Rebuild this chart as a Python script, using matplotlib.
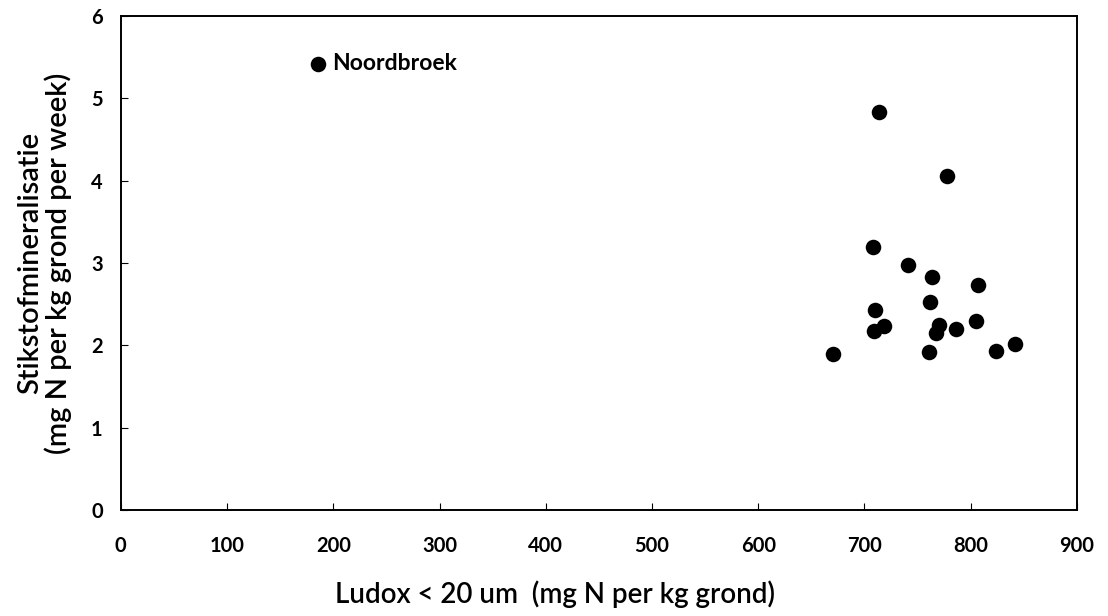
import matplotlib
matplotlib.use("Agg")
import matplotlib.pyplot as plt

# Meetpunten (Ludox < 20 um tegen stikstofmineralisatie)
ludox = [714, 778, 708, 741, 764, 807, 762, 710, 718, 709, 770, 767, 786, 805, 761, 824, 842, 670]
mineralisatie = [4.83, 4.06, 3.19, 2.98, 2.83, 2.73, 2.53, 2.43, 2.23, 2.18, 2.25, 2.15, 2.20, 2.30, 1.92, 1.93, 2.02, 1.90]

# Uitschieter met label
noordbroek_x = [186]
noordbroek_y = [5.42]
noordbroek_label = "Noordbroek"

x_ticks = [0, 100, 200, 300, 400, 500, 600, 700, 800, 900]
y_ticks = [0, 1, 2, 3, 4, 5, 6]

plt.rcParams['font.family'] = ['Lato', 'DejaVu Sans']

fig = plt.figure(figsize=(11.08, 6.16), dpi=100)
ax = fig.add_axes([0.109, 0.172, 0.863, 0.802])

ax.scatter(ludox, mineralisatie, s=125, color='black', zorder=3, linewidths=0)
ax.scatter(noordbroek_x, noordbroek_y, s=125, color='black', zorder=3, linewidths=0)
ax.annotate(noordbroek_label, (noordbroek_x[0], noordbroek_y[0]), xytext=(10, 0),
            textcoords='offset points', va='center', ha='left',
            fontsize=16.5, fontweight='bold')

ax.set_xlim(0, 900)
ax.set_ylim(0, 6)
ax.set_xticks(x_ticks)
ax.set_yticks(y_ticks)
ax.tick_params(axis='x', direction='in', length=5, pad=19, labelsize=14.5)
ax.tick_params(axis='y', direction='in', length=5, pad=13, labelsize=14.5)
for lbl in ax.get_xticklabels() + ax.get_yticklabels():
    lbl.set_fontweight('bold')

for sp in ax.spines.values():
    sp.set_linewidth(1.4)

ax.set_xlabel("Ludox < 20 um  (mg N per kg grond)", fontsize=20, fontweight='semibold')
ax.xaxis.set_label_coords(0.454, -0.143)
ax.set_ylabel("Stikstofmineralisatie\n(mg N per kg grond per week)", fontsize=21,
              fontweight='semibold', labelpad=14, linespacing=1.05)

fig.savefig("out.png", dpi=100)
